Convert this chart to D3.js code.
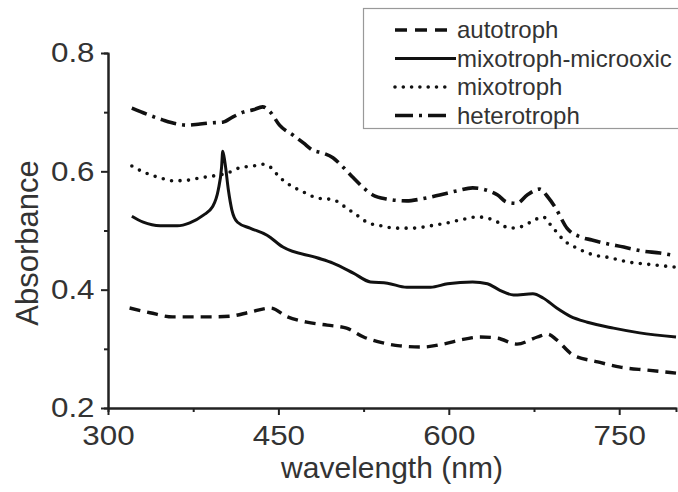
<!DOCTYPE html>
<html>
<head>
<meta charset="utf-8">
<script src="https://cdnjs.cloudflare.com/ajax/libs/d3/7.8.5/d3.min.js"></script>
<style>
    body { margin: 0; background: #fff; }
    svg { display: block; font-family: "Liberation Sans", Arial, sans-serif; }
    .axis path, .axis line { stroke: #222; stroke-width: 2; }
    .axis text { fill: #333; font-size: 28px; }
    .title { fill: #333; font-size: 31px; }
    .legendText { fill: #333; font-size: 24px; }
</style>
</head>
<body>
<div class="container"></div>
<script>
// values
var autotrophWl = [319, 337, 357, 375, 392, 407, 425, 443, 458, 475, 493, 510, 525, 542, 557, 577, 595, 610, 628, 643, 660, 678, 687, 695, 709, 731, 751, 775, 800];
var autotrophAbs = [0.369, 0.361, 0.354, 0.354, 0.354, 0.355, 0.362, 0.369, 0.354, 0.345, 0.340, 0.335, 0.320, 0.310, 0.305, 0.303, 0.308, 0.315, 0.320, 0.318, 0.308, 0.320, 0.325, 0.315, 0.290, 0.278, 0.269, 0.264, 0.259];

var microoxicWl = [321, 331, 346, 361, 372, 384, 392, 397, 400, 401, 403, 406, 409, 414, 425, 440, 454, 484, 498, 516, 531, 546, 563, 584, 599, 621, 634, 645, 657, 674, 683, 695, 707, 722, 745, 768, 800];
var microoxicAbs = [0.524, 0.514, 0.508, 0.508, 0.513, 0.526, 0.540, 0.568, 0.607, 0.634, 0.614, 0.568, 0.535, 0.514, 0.504, 0.492, 0.472, 0.454, 0.445, 0.428, 0.413, 0.411, 0.404, 0.404, 0.410, 0.413, 0.410, 0.399, 0.391, 0.393, 0.386, 0.369, 0.355, 0.345, 0.335, 0.327, 0.320];

var mixotrophWl = [321, 331, 346, 357, 370, 381, 392, 405, 416, 428, 436, 443, 451, 460, 472, 484, 498, 510, 519, 528, 540, 554, 569, 584, 599, 613, 625, 639, 654, 663, 672, 683, 689, 695, 701, 713, 727, 742, 757, 775, 800];
var mixotrophAbs = [0.609, 0.599, 0.589, 0.584, 0.585, 0.589, 0.592, 0.597, 0.606, 0.609, 0.612, 0.607, 0.590, 0.577, 0.565, 0.555, 0.552, 0.538, 0.526, 0.514, 0.508, 0.504, 0.504, 0.508, 0.513, 0.519, 0.523, 0.518, 0.504, 0.506, 0.514, 0.523, 0.511, 0.497, 0.484, 0.470, 0.459, 0.454, 0.447, 0.443, 0.438];

var heterotrophWl = [321, 331, 348, 361, 370, 381, 392, 401, 410, 419, 428, 436, 443, 451, 463, 472, 480, 489, 498, 507, 516, 525, 533, 546, 563, 575, 592, 607, 621, 630, 643, 651, 660, 669, 680, 687, 694, 704, 716, 726, 736, 754, 771, 786, 800];
var heterotrophAbs = [0.707, 0.699, 0.687, 0.680, 0.678, 0.680, 0.682, 0.683, 0.692, 0.700, 0.704, 0.709, 0.700, 0.678, 0.661, 0.648, 0.636, 0.631, 0.623, 0.607, 0.589, 0.572, 0.560, 0.553, 0.550, 0.553, 0.560, 0.567, 0.572, 0.570, 0.560, 0.548, 0.546, 0.560, 0.570, 0.557, 0.538, 0.504, 0.489, 0.484, 0.479, 0.472, 0.465, 0.462, 0.457];

var seriesNames = ["autotroph", "mixotroph-microoxic", "mixotroph", "heterotroph"];
var xMajorTicks = [300, 450, 600, 750];
var xMinorTicks = [375, 525, 675];
var yMajorTicks = [0.2, 0.4, 0.6, 0.8];
var yMinorTicks = [0.3, 0.5, 0.7];

var width = 678;
var height = 492;

// line styles, same order as seriesNames
var dashes = ["11,7", null, "0,8.5", "16,6,3,6"];
var caps = ["butt", "butt", "round", "butt"];
var widths = [3.4, 3, 3.6, 3.6];
var legendDashes = ["12,8", null, "0,8.3", "18,6,3,6"];

function zip(wl, abs) {
    var out = [];
    for (var i = 0; i < wl.length; i++) {
        out.push([wl[i], abs[i]]);
    }
    return out;
}

var allSeries = [
    zip(autotrophWl, autotrophAbs),
    zip(microoxicWl, microoxicAbs),
    zip(mixotrophWl, mixotrophAbs),
    zip(heterotrophWl, heterotrophAbs)
];

var canvas = d3.select(".container")
    .append("svg")
    .attr("width", width)
    .attr("height", height);

var x = d3.scaleLinear().domain([300, 800]).range([108, 676]);
var y = d3.scaleLinear().domain([0.2, 0.8]).range([408, 53]);

var line = d3.line()
    .x(function(d) { return x(d[0]); })
    .y(function(d) { return y(d[1]); })
    .curve(d3.curveMonotoneX);

// curves
canvas.selectAll(".curve")
    .data(allSeries)
    .enter()
    .append("path")
    .attr("class", "curve")
    .attr("d", line)
    .attr("fill", "none")
    .attr("stroke", "#111")
    .attr("stroke-width", function(d, i) { return widths[i]; })
    .attr("stroke-linecap", function(d, i) { return caps[i]; })
    .attr("stroke-linejoin", "round")
    .attr("stroke-dasharray", function(d, i) { return dashes[i]; });

// minor ticks first, majors on top
canvas.append("g")
    .attr("class", "axis")
    .attr("transform", "translate(0,408)")
    .call(d3.axisBottom(x).tickValues(xMinorTicks).tickSize(4).tickFormat(""));
canvas.append("g")
    .attr("class", "axis")
    .attr("transform", "translate(108,0)")
    .call(d3.axisLeft(y).tickValues(yMinorTicks).tickSize(4).tickFormat(""));

var xAxis = canvas.append("g")
    .attr("class", "axis")
    .attr("transform", "translate(0,408)")
    .call(d3.axisBottom(x).tickValues(xMajorTicks).tickSize(7).tickPadding(10).tickSizeOuter(0).tickFormat(d3.format("d")));
var yAxis = canvas.append("g")
    .attr("class", "axis")
    .attr("transform", "translate(108,0)")
    .call(d3.axisLeft(y).tickValues(yMajorTicks).tickSize(7).tickPadding(5).tickSizeOuter(0).tickFormat(d3.format(".1f")));

canvas.selectAll(".axis").attr("font-size", null).attr("font-family", null);
// the original labels are a bit wider than Arial
xAxis.selectAll("text").attr("transform", "scale(1.12,1)");
yAxis.selectAll("text").attr("transform", "scale(1.12,1)");

// axis titles
canvas.append("text")
    .attr("class", "title")
    .attr("x", 392)
    .attr("y", 478)
    .style("font-size", "30px")
    .attr("text-anchor", "middle")
    .text("wavelength (nm)");

canvas.append("text")
    .attr("class", "title")
    .attr("transform", "translate(38,243) rotate(-90)")
    .attr("text-anchor", "middle")
    .text("Absorbance");

// legend box, runs off the right edge
canvas.append("rect")
    .attr("x", 363.5)
    .attr("y", 8.5)
    .attr("width", 330)
    .attr("height", 120)
    .attr("fill", "#fff")
    .attr("stroke", "#999")
    .attr("stroke-width", 1.2);

var legend = canvas.selectAll(".legendItem")
    .data(seriesNames)
    .enter()
    .append("g")
    .attr("class", "legendItem")
    .attr("transform", function(d, i) { return "translate(0," + (30 + i * 28.5) + ")"; });

legend.append("line")
    .attr("x1", 395)
    .attr("x2", function(d, i) { return i == 1 ? 456 : 450; })
    .attr("y1", 0)
    .attr("y2", 0)
    .attr("stroke", "#111")
    .attr("stroke-width", function(d, i) { return widths[i]; })
    .attr("stroke-linecap", function(d, i) { return caps[i]; })
    .attr("stroke-dasharray", function(d, i) { return legendDashes[i]; });

legend.append("text")
    .attr("class", "legendText")
    .attr("x", 457)
    .attr("y", 8)
    .text(function(d) { return d; });
</script>
</body>
</html>
